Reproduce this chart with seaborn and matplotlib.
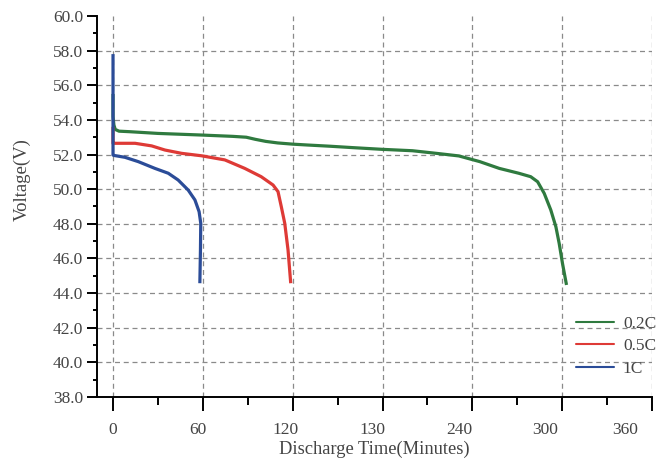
"""
Battery discharge curves: voltage vs discharge time at 0.2C / 0.5C / 1C
"""

import numpy as np
import pandas as pd
import matplotlib
matplotlib.use("Agg")
import matplotlib.pyplot as plt
import matplotlib.transforms as mtransforms
from matplotlib.ticker import MultipleLocator
import seaborn as sns

# ---- data (minutes, volts) ----
T_02C = [0, 0, 0.6, 1.5, 4, 11, 30, 58, 80, 89, 95, 102, 110, 120, 130, 145, 160,
         180, 200, 218, 231, 245, 258, 271, 279, 283.6, 288, 292.4, 295.8, 298,
         300.2, 302.9]
V_02C = [55.5, 54.2, 53.7, 53.45, 53.35, 53.32, 53.22, 53.13, 53.05, 53.0, 52.88,
         52.76, 52.67, 52.6, 52.55, 52.48, 52.4, 52.3, 52.22, 52.05, 51.92, 51.59,
         51.2, 50.92, 50.72, 50.43, 49.76, 48.8, 47.83, 46.87, 45.72, 44.47]

T_05C = [0, 0, 0.5, 14.7, 25.8, 34.7, 45.8, 59, 74.7, 88, 99, 106.9, 110.2, 112.4,
         114.7, 116.9, 118.7]
V_05C = [53.6, 52.65, 52.65, 52.65, 52.5, 52.26, 52.07, 51.93, 51.69, 51.2, 50.72,
         50.24, 49.86, 48.99, 48.03, 46.49, 44.57]

T_1C = [0, 0, 0.5, 8, 16.9, 28, 36.9, 43.5, 50.2, 54.7, 57.5, 58.6, 58.4, 58.0]
V_1C = [57.8, 51.97, 51.95, 51.84, 51.59, 51.2, 50.92, 50.53, 49.95, 49.38, 48.7,
        48.03, 46.49, 44.57]

RATES = ["0.2C", "0.5C", "1C"]
COLORS = {"0.2C": "#2f7a3f", "0.5C": "#de3a36", "1C": "#2b4c98"}

X_TICKS = [0, 60, 120, 180, 240, 300, 360]
X_LABELS = ["0", "60", "120", "130", "240", "300", "360"]  # "130" as printed on the original
X_LABEL_SHIFT = [0, -5, -7, -10, -13, -17, -27]  # px, labels drift left in the original

frames = []
for rate, t, v in zip(RATES, [T_02C, T_05C, T_1C], [V_02C, V_05C, V_1C]):
    frames.append(pd.DataFrame({"time": t, "voltage": v, "rate": rate}))
df = pd.concat(frames, ignore_index=True)

# ---- style ----
sns.set_style("ticks")
plt.rcParams["font.family"] = ["Liberation Serif", "DejaVu Serif"]
TXT = "#444444"

fig = plt.figure(figsize=(6.59, 4.62), dpi=100)
ax = fig.add_axes([97 / 659, 1 - 397 / 462, (652 - 97) / 659, (397 - 16) / 462])

sns.lineplot(data=df, x="time", y="voltage", hue="rate", hue_order=RATES,
             palette=COLORS, sort=False, estimator=None, linewidth=2.3, ax=ax,
             legend=False, solid_joinstyle="round", solid_capstyle="butt")

ax.set_xlim(-10.7, 360)
ax.set_ylim(38, 60)
ax.set_xticks(X_TICKS)
ax.set_xticklabels(X_LABELS)
ax.xaxis.set_minor_locator(MultipleLocator(30))
ax.set_yticks(np.arange(38, 60.1, 2))
ax.set_yticklabels([f"{y:.1f}" for y in np.arange(38, 60.1, 2)])
ax.yaxis.set_minor_locator(MultipleLocator(1))

ax.grid(True, which="major", linestyle=(0, (4, 3)), color="#8a8a8a", linewidth=0.9)
ax.yaxis.get_gridlines()[-1].set_visible(False)
ax.set_axisbelow(True)

for s in ["top", "right"]:
    ax.spines[s].set_visible(False)
for s in ["left", "bottom"]:
    ax.spines[s].set_linewidth(1.4)
    ax.spines[s].set_color("black")

ax.tick_params(axis="x", which="major", length=10, width=1.4, pad=8,
               labelsize=12.5, labelcolor=TXT, color="black")
ax.tick_params(axis="x", which="minor", length=6, width=1.4, color="black")
ax.tick_params(axis="y", which="major", length=7, width=1.4, pad=3,
               labelsize=12.5, labelcolor=TXT, color="black")
ax.tick_params(axis="y", which="minor", length=3, width=1.4, color="black")

for lab, dx in zip(ax.get_xticklabels(), X_LABEL_SHIFT):
    lab.set_transform(lab.get_transform() +
                      mtransforms.ScaledTranslation(dx / 100, 0, fig.dpi_scale_trans))

ax.set_xlabel("Discharge Time(Minutes)", fontsize=13.3, color=TXT, labelpad=2)
ax.set_ylabel("Voltage(V)", fontsize=13.5, color=TXT)
ax.yaxis.set_label_coords(-0.12, 0.57)

# legend: plain lines, no frame, lower right
handles = [plt.Line2D([], [], color=COLORS[r], linewidth=1.5) for r in RATES]
leg = fig.legend(handles, RATES, loc="upper left",
                 bbox_to_anchor=(576 / 659, 1 - 316 / 462), frameon=False,
                 fontsize=12.5, handlelength=2.2, handletextpad=0.5,
                 labelspacing=0.35, borderpad=0, borderaxespad=0)
for t in leg.get_texts():
    t.set_color(TXT)

fig.savefig("out.png", dpi=100)
